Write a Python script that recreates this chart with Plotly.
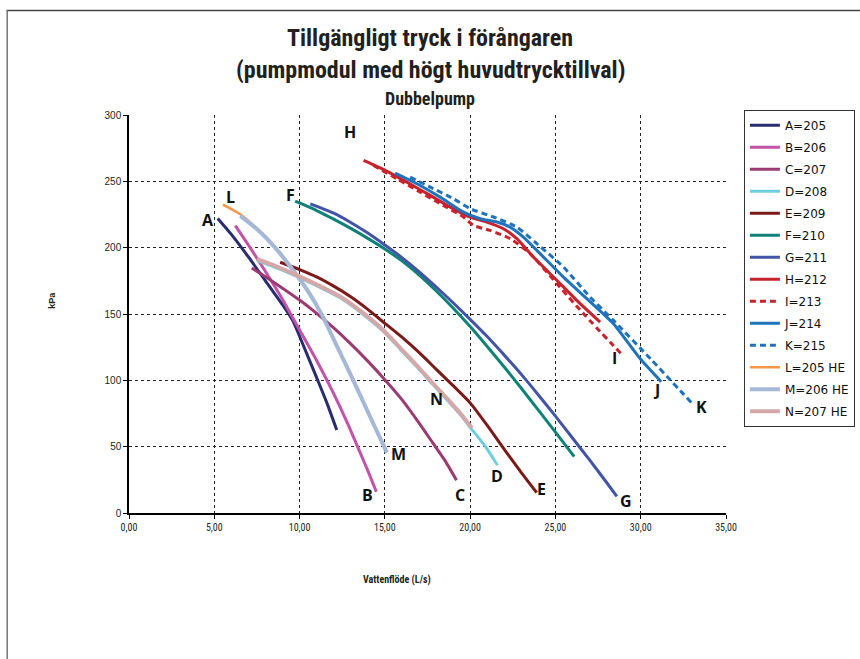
import plotly.graph_objects as go

# ---- data ----
names = ["A=205", "B=206", "C=207", "D=208", "E=209", "F=210", "G=211",
         "H=212", "I=213", "J=214", "K=215", "L=205 HE", "M=206 HE", "N=207 HE"]

A_x = [5.2, 6.0, 7.0, 8.0, 9.0, 9.6, 10.2, 11.0, 11.6, 12.18]
A_y = [222, 210, 193, 175, 157, 145, 127, 102, 83, 62.5]

B_x = [6.23, 7.0, 8.0, 9.0, 10.0, 11.0, 12.0, 12.8, 13.5, 14.0, 14.5]
B_y = [216.6, 202, 182, 161, 138, 115, 90, 68, 47, 32, 16]

C_x = [7.2, 8.0, 9.0, 10.0, 11.0, 12.0, 13.0, 14.0, 15.0, 16.0, 17.0, 17.8, 18.5, 19.2]
C_y = [184.7, 178, 169.5, 160.5, 150.5, 139.5, 127.5, 114.5, 100.5, 85.5, 68, 53, 40, 24.7]

D_x = [7.5, 8.8, 10.0, 11.2, 12.4, 13.7, 14.9, 15.9, 17.0, 17.8, 18.6, 19.4, 20.1, 20.9, 21.6]
D_y = [190.5, 184, 177.4, 170, 162, 150, 137, 123.5, 108.5, 97, 86, 74.5, 63, 50, 36]

E_x = [8.86, 10, 11, 12, 13, 14, 15, 16, 17, 18, 19, 20, 21, 22, 23, 23.9]
E_y = [189, 183.5, 178, 171, 163, 153.5, 143, 132.5, 121, 108.5, 96, 83, 66, 48, 30.5, 15.4]

F_x = [9.74, 11, 12, 13, 14, 15, 16, 17, 18, 19, 20, 21, 22, 23, 24, 25, 26.1]
F_y = [235, 228, 221.5, 214.5, 207, 199, 190, 179.5, 167.5, 154.5, 140.5, 125.5, 110, 94, 77.5, 61, 42.5]

G_x = [10.63, 12, 13, 14, 15, 16, 17, 18, 19, 20, 21, 22, 23, 24, 25, 26, 27, 28, 28.6]
G_y = [233, 226, 219, 211, 202, 192.5, 182, 170.5, 158.5, 146, 133, 119, 104.5, 89, 73, 56.5, 40, 23, 12.5]

H_x = [13.75, 15.02, 16.29, 17.66, 18.83, 20.0, 20.98, 21.95, 22.74, 23.71, 25.08, 26.25, 27.62]
H_y = [265.8, 258.3, 249.4, 239.4, 230.6, 223.1, 219.3, 214.3, 206.8, 192.9, 175.4, 160.3, 143.9]

I_x = [14.33, 15.7, 17.07, 18.24, 19.61, 20.19, 21.17, 22.34, 23.52, 25.08, 26.64, 29.0]
I_y = [262, 252, 241.9, 233.2, 223.1, 216.8, 213, 206.8, 195.5, 172.9, 150.3, 118]

J_x = [15.6, 16.88, 18.24, 19.61, 20.59, 21.57, 22.34, 23.12, 24.1, 25.47, 26.84, 28.4, 29.96, 31.2]
J_y = [256.2, 248.2, 238.1, 226.8, 221.8, 219.3, 215.5, 208, 195.5, 177.8, 161.6, 142.7, 116.4, 99]

K_x = [16.48, 17.66, 19.02, 20.0, 21.37, 22.74, 23.91, 25.47, 27.03, 28.4, 30.56, 33.05]
K_y = [253.2, 245.7, 236.9, 229.4, 223.1, 215.5, 203, 185.4, 162.8, 145.2, 116.4, 82.1]

L_x = [5.51, 6.52, 7.5, 8.5, 9.5, 10.5, 11.3, 12.2, 13.15, 14.1, 15.12]
L_y = [232.5, 225.2, 214.5, 201.5, 185.5, 167.5, 150, 126, 100.5, 74, 46]

M_x = [6.52, 7.5, 8.5, 9.5, 10.5, 11.3, 12.2, 13.15, 14.1, 15.12]
M_y = [224, 214, 201, 185, 167, 149.5, 125.5, 100, 73.5, 45.5]

N_x = [7.5, 8.8, 10.0, 11.2, 12.4, 13.7, 14.9, 15.9, 17.0, 17.8, 18.6, 19.4, 20.1]
N_y = [191.5, 185, 178.4, 171, 163, 151, 138, 124.5, 109.5, 98, 87, 75.5, 64]

xs = [A_x, B_x, C_x, D_x, E_x, F_x, G_x, H_x, I_x, J_x, K_x, L_x, M_x, N_x]
ys = [A_y, B_y, C_y, D_y, E_y, F_y, G_y, H_y, I_y, J_y, K_y, L_y, M_y, N_y]

colors = ["#2A2C72", "#C352A8", "#9C3B72", "#6FCDE0", "#7C1A1A", "#0F8278", "#4154A8",
          "#C8222D", "#C8222D", "#1F73BE", "#1F73BE", "#F79646", "#A6B8D8", "#D6A7A8"]
dashes = ["solid"] * 8 + ["6px,4px", "solid", "6px,4px"] + ["solid"] * 3
widths = [3, 3, 3, 3, 3, 3, 3, 3, 3, 3, 3, 2.5, 4, 4]

label_text = ["A", "L", "F", "H", "B", "M", "N", "C", "D", "E", "G", "I", "J", "K"]
label_x = [4.66, 5.93, 9.45, 12.97, 13.98, 15.8, 18.05, 19.41, 21.6, 24.2, 29.14, 28.44, 30.9, 33.58]
label_y = [220.6, 238.1, 239.4, 286.9, 13.3, 44.8, 86.2, 13.3, 27.9, 18.4, 9.0, 117.1, 93.0, 79.9]

x_ticks = [0, 5, 10, 15, 20, 25, 30, 35]
y_ticks = [0, 50, 100, 150, 200, 250, 300]

title1 = "Tillgängligt tryck i förångaren"
title2 = "(pumpmodul med högt huvudtrycktillval)"
subtitle = "Dubbelpump"
x_title = "Vattenflöde (L/s)"
y_title = "kPa"

# ---- figure ----
fig = go.Figure()
for i, n in enumerate(names):
    fig.add_trace(go.Scatter(
        x=xs[i], y=ys[i], name=n, mode="lines", legendgroup=n,
        line=dict(color=colors[i], width=widths[i], dash=dashes[i], shape="spline", smoothing=0.6),
    ))

cond = "Liberation Sans Narrow, Roboto Condensed, Liberation Sans, Arial, sans-serif"
annotations = []
for t, x, y in zip(label_text, label_x, label_y):
    annotations.append(dict(x=x, y=y, xref="x", yref="y", text="<b>%s</b>" % t, showarrow=False,
                            font=dict(family="Open Sans, Liberation Sans, sans-serif", size=16, color="#111")))

annotations += [
    dict(x=0.5044, y=1.1924, xref="paper", yref="paper", text="<b>%s</b>" % title1, showarrow=False,
         font=dict(family=cond, size=24, color="#231F20"), yanchor="middle"),
    dict(x=0.5044, y=1.112, xref="paper", yref="paper", text="<b>%s</b>" % title2, showarrow=False,
         font=dict(family=cond, size=24, color="#231F20"), yanchor="middle"),
    dict(x=0.5044, y=1.0414, xref="paper", yref="paper", text="<b>%s</b>" % subtitle, showarrow=False,
         font=dict(family=cond, size=18, color="#231F20"), yanchor="middle"),
    dict(x=0.449, y=-0.169, xref="paper", yref="paper", text="<b>%s</b>" % x_title, showarrow=False,
         font=dict(family=cond, size=10, color="#231F20"), yanchor="middle"),
    dict(x=-0.1286, y=0.534, xref="paper", yref="paper", text="<b>%s</b>" % y_title, showarrow=False,
         textangle=-90, font=dict(family="Liberation Sans, Arial, sans-serif", size=9, color="#231F20"),
         xanchor="center", yanchor="middle"),
]

shapes = [
    dict(type="line", xref="paper", yref="paper", x0=-0.205, x1=1.23, y0=1.2627, y1=1.2627,
         line=dict(color="#444", width=1.5)),
    dict(type="line", xref="paper", yref="paper", x0=-0.204, x1=-0.204, y0=-0.4, y1=1.2627,
         line=dict(color="#777", width=1.5)),
]

fig.update_layout(
    width=860, height=659,
    margin=dict(l=129, r=134, t=115, b=146, autoexpand=False),
    paper_bgcolor="white", plot_bgcolor="white",
    separators=",.",
    showlegend=True,
    legend=dict(x=1.030, y=1.013, xanchor="left", yanchor="top",
                bordercolor="#333", borderwidth=1, bgcolor="white",
                font=dict(family="DejaVu Sans, Liberation Sans, sans-serif", size=12, color="#111"),
                tracegroupgap=3, traceorder="grouped", itemwidth=30),
    annotations=annotations,
    shapes=shapes,
    font=dict(family="Liberation Sans, Arial, sans-serif"),
)
fig.update_xaxes(range=[0, 35], tickvals=x_ticks, tickformat=".2f",
                 showgrid=True, gridcolor="#222", griddash="dot", gridwidth=1,
                 showline=True, linecolor="black", linewidth=1.5, zeroline=False,
                 ticks="outside", ticklen=4, tickcolor="black",
                 tickfont=dict(family=cond, size=10, color="#231F20"))
fig.update_yaxes(range=[0, 300], tickvals=y_ticks,
                 showgrid=True, gridcolor="#222", griddash="dot", gridwidth=1,
                 showline=True, linecolor="black", linewidth=1.5, zeroline=False,
                 ticks="outside", ticklen=4, tickcolor="black",
                 tickfont=dict(family="Liberation Sans, Arial, sans-serif", size=10, color="#231F20"))

fig.write_html("out.html", config={"displayModeBar": False},
               post_script="document.body.style.margin='0px';")
